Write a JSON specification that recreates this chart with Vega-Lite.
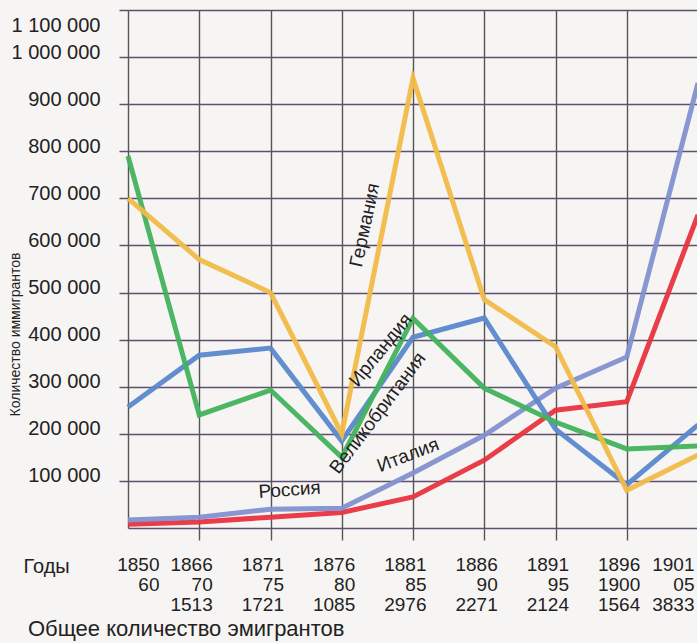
{
  "$schema": "https://vega.github.io/schema/vega-lite/v6.json",
  "width": 570,
  "height": 518,
  "autosize": {"type": "none"},
  "padding": {"left": 128, "top": 10, "right": 0, "bottom": 115},
  "background": "#f7f5f3",
  "config": {"view": {"stroke": null}, "font": "Liberation Sans"},
  "title": {
    "text": "Общее количество эмигрантов",
    "orient": "bottom",
    "anchor": "start",
    "frame": "group",
    "dx": -100,
    "offset": 5,
    "fontSize": 22,
    "fontWeight": "normal",
    "font": "Liberation Sans",
    "color": "#222222"
  },
  "encoding": {
    "x": {
      "field": "period",
      "type": "nominal",
      "sort": null,
      "scale": {"type": "point", "padding": 0},
      "axis": {
        "title": "Годы",
        "titleX": -105,
        "titleY": 44,
        "titleAlign": "left",
        "titleBaseline": "alphabetic",
        "titleFont": "Liberation Sans",
        "titleFontSize": 20,
        "titleFontWeight": "normal",
        "titleColor": "#222222",
        "labelExpr": "split(datum.value, '\\n')",
        "labelAngle": 0,
        "labelAlign": "right",
        "labelBaseline": "top",
        "labelOffset": {"condition": [{"test": "indexof(datum.value, '1850') == 0", "value": 31}, {"test": "indexof(datum.value, '1901') == 0", "value": -4}], "value": 13},
        "labelFont": "Liberation Sans",
        "labelFontSize": 19,
        "labelLineHeight": 20,
        "labelPadding": 15,
        "labelColor": "#222222",
        "labelOverlap": false,
        "labelFlush": false,
        "labelBound": false,
        "tickSize": 12,
        "tickColor": "#555555",
        "tickWidth": 1.4,
        "tickOpacity": {"condition": {"test": "indexof(datum.value, '1850') == 0", "value": 0}, "value": 1},
        "grid": true,
        "gridColor": "#555555",
        "gridWidth": 1.4,
        "domain": false
      }
    },
    "y": {
      "field": "value",
      "type": "quantitative",
      "scale": {"domain": [0, 1100000], "nice": false, "zero": true},
      "axis": {
        "title": "Количество иммигрантов",
        "titleX": -113,
        "titleY": 324,
        "titleAngle": 270,
        "titleAlign": "center",
        "titleBaseline": "middle",
        "titleFont": "Liberation Sans",
        "titleFontSize": 14,
        "titleFontWeight": "normal",
        "titleColor": "#222222",
        "values": [0, 100000, 200000, 300000, 400000, 500000, 600000, 700000, 800000, 900000, 1000000, 1100000],
        "labelExpr": "datum.value == 0 ? '' : replace(replace(format(datum.value, ','), ',', ' '), ',', ' ')",
        "labelFont": "Liberation Sans",
        "labelFontSize": 20,
        "labelColor": "#222222",
        "labelPadding": 19,
        "labelOffset": {"condition": {"test": "datum.value >= 1100000", "value": 15}, "value": -5},
        "labelOverlap": false,
        "labelFlush": false,
        "labelBound": false,
        "tickSize": 9,
        "tickColor": "#5e4f6e",
        "tickWidth": 1.5,
        "tickOpacity": {"condition": {"test": "datum.value == 0", "value": 0}, "value": 1},
        "grid": true,
        "gridColor": "#5e4f6e",
        "gridWidth": 1.5,
        "domain": false
      }
    }
  },
  "layer": [
    {
      "data": {
        "values": [
          {"country": "Россия", "period": "1850\n60", "value": 8000},
          {"country": "Россия", "period": "1866\n70\n1513", "value": 13000},
          {"country": "Россия", "period": "1871\n75\n1721", "value": 23000},
          {"country": "Россия", "period": "1876\n80\n1085", "value": 33000},
          {"country": "Россия", "period": "1881\n85\n2976", "value": 66000},
          {"country": "Россия", "period": "1886\n90\n2271", "value": 144000},
          {"country": "Россия", "period": "1891\n95\n2124", "value": 250000},
          {"country": "Россия", "period": "1896\n1900\n1564", "value": 268000},
          {"country": "Россия", "period": "1901\n05\n3833", "value": 665000},
          {"country": "Италия", "period": "1850\n60", "value": 17000},
          {"country": "Италия", "period": "1866\n70\n1513", "value": 23000},
          {"country": "Италия", "period": "1871\n75\n1721", "value": 40000},
          {"country": "Италия", "period": "1876\n80\n1085", "value": 42000},
          {"country": "Италия", "period": "1881\n85\n2976", "value": 117000},
          {"country": "Италия", "period": "1886\n90\n2271", "value": 197000},
          {"country": "Италия", "period": "1891\n95\n2124", "value": 297000},
          {"country": "Италия", "period": "1896\n1900\n1564", "value": 363000},
          {"country": "Италия", "period": "1901\n05\n3833", "value": 945000},
          {"country": "Великобритания", "period": "1850\n60", "value": 257000},
          {"country": "Великобритания", "period": "1866\n70\n1513", "value": 367000},
          {"country": "Великобритания", "period": "1871\n75\n1721", "value": 382000},
          {"country": "Великобритания", "period": "1876\n80\n1085", "value": 185000},
          {"country": "Великобритания", "period": "1881\n85\n2976", "value": 405000},
          {"country": "Великобритания", "period": "1886\n90\n2271", "value": 446000},
          {"country": "Великобритания", "period": "1891\n95\n2124", "value": 210000},
          {"country": "Великобритания", "period": "1896\n1900\n1564", "value": 92000},
          {"country": "Великобритания", "period": "1901\n05\n3833", "value": 219000},
          {"country": "Ирландия", "period": "1850\n60", "value": 790000},
          {"country": "Ирландия", "period": "1866\n70\n1513", "value": 240000},
          {"country": "Ирландия", "period": "1871\n75\n1721", "value": 293000},
          {"country": "Ирландия", "period": "1876\n80\n1085", "value": 150000},
          {"country": "Ирландия", "period": "1881\n85\n2976", "value": 445000},
          {"country": "Ирландия", "period": "1886\n90\n2271", "value": 297000},
          {"country": "Ирландия", "period": "1891\n95\n2124", "value": 225000},
          {"country": "Ирландия", "period": "1896\n1900\n1564", "value": 168000},
          {"country": "Ирландия", "period": "1901\n05\n3833", "value": 174000},
          {"country": "Германия", "period": "1850\n60", "value": 700000},
          {"country": "Германия", "period": "1866\n70\n1513", "value": 570000},
          {"country": "Германия", "period": "1871\n75\n1721", "value": 500000},
          {"country": "Германия", "period": "1876\n80\n1085", "value": 200000},
          {"country": "Германия", "period": "1881\n85\n2976", "value": 955000},
          {"country": "Германия", "period": "1886\n90\n2271", "value": 485000},
          {"country": "Германия", "period": "1891\n95\n2124", "value": 385000},
          {"country": "Германия", "period": "1896\n1900\n1564", "value": 80000},
          {"country": "Германия", "period": "1901\n05\n3833", "value": 155000}
        ]
      },
      "mark": {"type": "line", "strokeWidth": 5, "opacity": 0.95},
      "encoding": {
        "color": {
          "field": "country",
          "type": "nominal",
          "sort": null,
          "scale": {
            "domain": ["Россия", "Италия", "Великобритания", "Ирландия", "Германия"],
            "range": ["#e8343f", "#8290cf", "#5a88cc", "#42b25c", "#f1ba48"]
          },
          "legend": null
        }
      }
    },
    {
      "data": {"values": [{"period": "1876\n80\n1085", "value": 643000, "label": "Германия"}]},
      "mark": {"type": "text", "angle": 282, "dx": 4.8, "dy": 22.5, "align": "center", "baseline": "middle", "fontSize": 19, "font": "Liberation Sans", "color": "#222222"},
      "encoding": {"text": {"field": "label"}}
    },
    {
      "data": {"values": [{"period": "1876\n80\n1085", "value": 378000, "label": "Ирландия"}]},
      "mark": {"type": "text", "angle": 309, "dx": 24.5, "dy": 30.3, "align": "center", "baseline": "middle", "fontSize": 19, "font": "Liberation Sans", "color": "#222222"},
      "encoding": {"text": {"field": "label"}}
    },
    {
      "data": {"values": [{"period": "1876\n80\n1085", "value": 244000, "label": "Великобритания"}]},
      "mark": {"type": "text", "angle": 307, "dx": 21.7, "dy": 28.7, "align": "center", "baseline": "middle", "fontSize": 19, "font": "Liberation Sans", "color": "#222222"},
      "encoding": {"text": {"field": "label"}}
    },
    {
      "data": {"values": [{"period": "1881\n85\n2976", "value": 155000, "label": "Италия"}]},
      "mark": {"type": "text", "angle": 339, "dx": -4.7, "dy": -1.8, "align": "center", "baseline": "middle", "fontSize": 19, "font": "Liberation Sans", "color": "#222222"},
      "encoding": {"text": {"field": "label"}}
    },
    {
      "data": {"values": [{"period": "1871\n75\n1721", "value": 81000, "label": "Россия"}]},
      "mark": {"type": "text", "angle": 356, "dx": 19, "dy": 1.3, "align": "center", "baseline": "middle", "fontSize": 19, "font": "Liberation Sans", "color": "#222222"},
      "encoding": {"text": {"field": "label"}}
    }
  ]
}
